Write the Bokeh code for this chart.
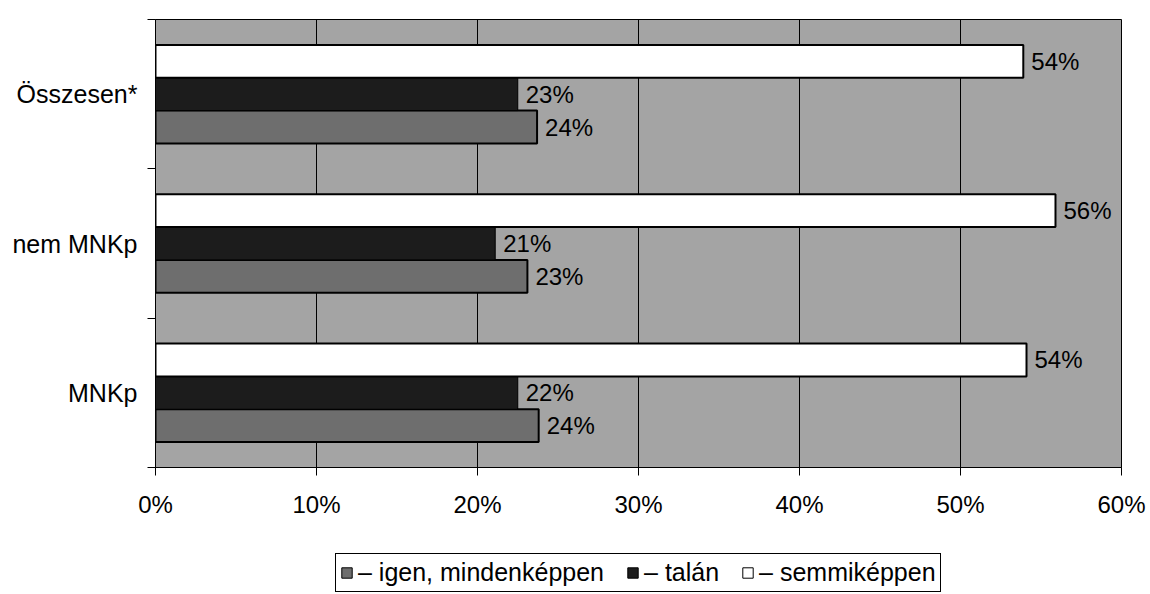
from bokeh.plotting import figure
from bokeh.layouts import column
from bokeh.models import Range1d, FixedTicker, PrintfTickFormatter, Legend, LegendItem, ColumnDataSource
from bokeh.core.properties import value
from bokeh.embed import file_html
from bokeh.resources import INLINE

# ---- data ----
categories = ["MNKp", "nem MNKp", "Összesen*"]
igen = [23.8, 23.1, 23.7]          # igen, mindenképpen
talan = [22.5, 21.1, 22.5]         # talán
semmi = [54.1, 55.9, 53.9]         # semmiképpen
igen_labels = ["24%", "23%", "24%"]
talan_labels = ["22%", "21%", "23%"]
semmi_labels = ["54%", "56%", "54%"]
series_names = ["– igen, mindenképpen", "– talán", "– semmiképpen"]
x_ticks = [0, 10, 20, 30, 40, 50, 60]

FONT = "Liberation Sans"
BAR_H = 0.22
IGEN_C, TALAN_C, SEMMI_C = "#6e6e6e", "#1c1c1c", "white"

centers = [i + 0.5 for i in range(len(categories))]
src = ColumnDataSource(dict(
    y_igen=[c - BAR_H for c in centers],
    y_talan=centers,
    y_semmi=[c + BAR_H for c in centers],
    igen=igen, talan=talan, semmi=semmi,
    igen_lab=igen_labels, talan_lab=talan_labels, semmi_lab=semmi_labels,
))

p = figure(width=1150, height=530, output_backend="svg", toolbar_location=None,
           x_range=Range1d(0, 60), y_range=Range1d(0, 3),
           min_border_left=155, min_border_right=29, min_border_top=19, min_border_bottom=63)

p.background_fill_color = "#a4a4a4"
p.border_fill_color = "white"
p.outline_line_color = "black"
p.outline_line_width = 1

# grid
p.ygrid.grid_line_color = None
p.xgrid.ticker = FixedTicker(ticks=x_ticks)
p.xgrid.grid_line_color = "black"
p.xgrid.grid_line_width = 1
p.xgrid.grid_line_alpha = 1

# x axis
p.xaxis.ticker = FixedTicker(ticks=x_ticks, minor_ticks=[])
p.xaxis.formatter = PrintfTickFormatter(format="%d%%")
p.xaxis.major_tick_out = 8
p.xaxis.major_tick_in = 0
p.xaxis.major_tick_line_color = "black"
p.xaxis.axis_line_color = "black"
p.xaxis.major_label_standoff = 15
p.xaxis.major_label_text_font = FONT
p.xaxis.major_label_text_font_size = "24px"
p.xaxis.major_label_text_color = "black"

# y axis
p.yaxis.ticker = FixedTicker(ticks=centers, minor_ticks=list(range(len(categories) + 1)))
p.yaxis.major_label_overrides = {c: cat for c, cat in zip(centers, categories)}
p.yaxis.major_tick_line_color = None
p.yaxis.minor_tick_line_color = "black"
p.yaxis.minor_tick_out = 8
p.yaxis.minor_tick_in = 0
p.yaxis.axis_line_color = "black"
p.yaxis.major_label_standoff = 10
p.yaxis.major_label_text_font = FONT
p.yaxis.major_label_text_font_size = "25px"
p.yaxis.major_label_text_color = "black"

# bars
p.hbar(y="y_igen", left=0, right="igen", height=BAR_H, source=src,
       fill_color=IGEN_C, line_color="black", line_width=2)
p.hbar(y="y_talan", left=0, right="talan", height=BAR_H, source=src,
       fill_color=TALAN_C, line_color="black", line_width=1)
p.hbar(y="y_semmi", left=0, right="semmi", height=BAR_H, source=src,
       fill_color=SEMMI_C, line_color="black", line_width=2)

# data labels
for col, lab in (("igen", "igen_lab"), ("talan", "talan_lab"), ("semmi", "semmi_lab")):
    p.text(x=col, y="y_" + col, text=lab, source=src, x_offset=8,
           text_baseline="middle", text_align="left",
           text_font=value(FONT), text_font_size="24px", text_color="black")

# ---- legend strip (separate figure below the chart) ----
# its y range lies far away from the data, so its bars fall outside the canvas
q = figure(width=1150, height=64, output_backend="svg", toolbar_location=None,
           x_range=Range1d(0, 60), y_range=Range1d(100, 101),
           x_axis_location=None, y_axis_location=None,
           min_border_left=0, min_border_right=0, min_border_top=0, min_border_bottom=0)
q.grid.visible = False
q.outline_line_color = None
q.background_fill_color = "white"
q.border_fill_color = "white"

l_igen = q.hbar(y="y_igen", left=0, right="igen", height=BAR_H, source=src,
                fill_color=IGEN_C, line_color="black", line_width=1)
l_talan = q.hbar(y="y_talan", left=0, right="talan", height=BAR_H, source=src,
                 fill_color=TALAN_C, line_color="black", line_width=1)
l_semmi = q.hbar(y="y_semmi", left=0, right="semmi", height=BAR_H, source=src,
                 fill_color=SEMMI_C, line_color="black", line_width=1)

legend = Legend(items=[
    LegendItem(label=series_names[0], renderers=[l_igen]),
    LegendItem(label=series_names[1], renderers=[l_talan]),
    LegendItem(label=series_names[2], renderers=[l_semmi]),
], orientation="horizontal", location=(180, 2))
legend.label_text_font = FONT
legend.label_text_font_size = "25px"
legend.label_text_color = "black"
legend.glyph_width = 13
legend.glyph_height = 13
legend.label_standoff = 5
legend.spacing = 22
legend.padding = 4
legend.margin = 0
legend.border_line_color = "black"
legend.border_line_width = 1
legend.border_line_alpha = 1
legend.background_fill_color = "white"
legend.background_fill_alpha = 1
q.add_layout(legend)

layout = column(p, q, spacing=0)
open("out.html", "w").write(file_html(layout, INLINE))
